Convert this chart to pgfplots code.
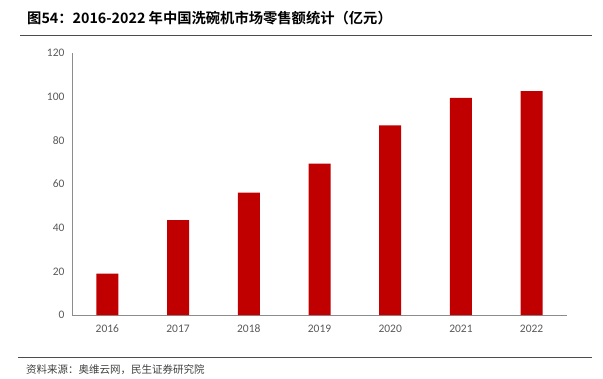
\documentclass[border=0pt]{standalone}
\usepackage{pgfplots}
\pgfplotsset{compat=1.18}
\usepackage{fontspec}
\setmainfont{Carlito}
\newfontfamily\cjk{Noto Sans CJK SC}
\newfontfamily\cjkb{Noto Sans CJK SC Bold}
\definecolor{barred}{HTML}{C00000}
\definecolor{ticktxt}{HTML}{595959}
\definecolor{axline}{HTML}{8C8C8C}
\begin{document}
\begin{tikzpicture}[x=1pt,y=1pt]
\useasboundingbox (0,0) rectangle (603,-378);
\node[anchor=west,inner sep=0] at (27,-18) {\fontsize{14.3}{15}\cjkb 图54：2016-2022 年中国洗碗机市场零售额统计（亿元）};
\draw[color=black!70,line width=1.1pt] (20,-35.5) -- (592,-35.5);
\draw[color=black!70,line width=0.8pt] (18,-357.5) -- (592,-357.5);
\node[anchor=west,inner sep=0,text=black!75] at (26,-370) {\fontsize{10.5}{12}\cjk 资料来源：奥维云网，民生证券研究院};
\begin{axis}[
  at={(72pt,-315pt)}, anchor=south west,
  scale only axis, width=495pt, height=262pt,
  xmin=-0.5, xmax=6.5, ymin=0, ymax=120,
  ytick={0,20,...,120},
  xtick={0,...,6},
  xticklabels={2016,2017,2018,2019,2020,2021,2022},
  axis x line*=bottom, axis y line*=left,
  axis line style={color=axline, line width=0.9pt},
  x axis line style={-}, y axis line style={-},
  major tick length=0pt,
  tick style={draw=none},
  ticklabel style={font=\fontsize{11.5}{13}\selectfont, text=ticktxt},
  /pgf/number format/assume math mode=true,
  yticklabel style={xshift=-4pt},
  xticklabel style={yshift=-6pt},
  ybar, bar width=22pt,
  clip=false,
]
\addplot[fill=barred, draw=none] coordinates {
(0,19.0) (1,43.5) (2,56.0) (3,69.3) (4,86.8) (5,99.5) (6,102.5)
};
\end{axis}
\end{tikzpicture}
\end{document}
